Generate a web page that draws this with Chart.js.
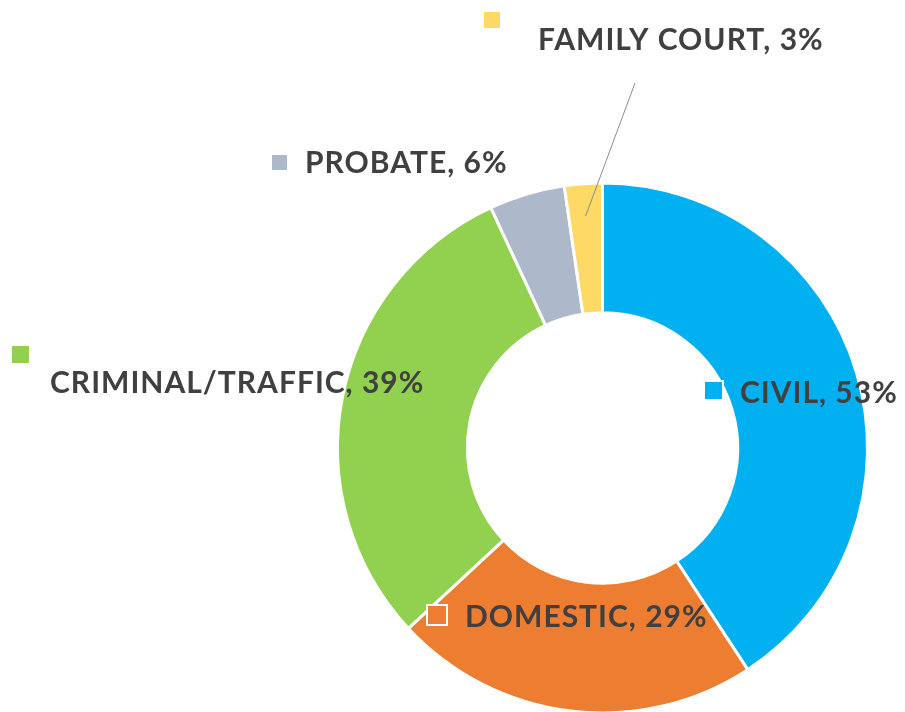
<!DOCTYPE html>
<html>
<head>
<meta charset="utf-8">
<script src="https://cdn.jsdelivr.net/npm/chart.js@4.4.1/dist/chart.umd.min.js"></script>
<style>
  html, body { margin: 0; padding: 0; background: #ffffff; overflow: hidden; }
  #wrap { position: relative; width: 905px; height: 712px; }
</style>
</head>
<body>
<div id="wrap"><canvas id="c" width="905" height="712"></canvas></div>
<script>
// ---- data ----
const categories = ['CIVIL', 'DOMESTIC', 'CRIMINAL/TRAFFIC', 'PROBATE', 'FAMILY COURT'];
const values = [53, 29, 39, 6, 3];
const percentLabels = ['53%', '29%', '39%', '6%', '3%'];
const colors = ['#00B0F0', '#ED7D31', '#92D050', '#ADB9CA', '#FFD966'];

// ---- label layout (marker square + text) ----
const labelLayout = [
  { mx: 705, my: 382, ms: 17, tx: 740, ty: 403 },   // CIVIL
  { mx: 428, my: 606, ms: 18, tx: 465, ty: 627 },   // DOMESTIC
  { mx: 12,  my: 346, ms: 17, tx: 50,  ty: 393 },   // CRIMINAL/TRAFFIC
  { mx: 272, my: 155, ms: 15, tx: 305, ty: 173 },   // PROBATE
  { mx: 484, my: 12,  ms: 16, tx: 538, ty: 50, leader: { x: 635, y: 83, r: 0.75 } } // FAMILY COURT
];

const labelPlugin = {
  id: 'sliceLabels',
  afterDatasetsDraw(chart) {
    const ctx = chart.ctx;
    const meta = chart.getDatasetMeta(0);
    ctx.save();
    labelLayout.forEach((L, i) => {
      if (L.leader) {
        const arc = meta.data[i];
        const p = arc.getProps(['x', 'y', 'startAngle', 'endAngle', 'innerRadius', 'outerRadius'], true);
        const a = (p.startAngle + p.endAngle) / 2;
        const r = p.innerRadius + (p.outerRadius - p.innerRadius) * L.leader.r;
        ctx.beginPath();
        ctx.moveTo(L.leader.x, L.leader.y);
        ctx.lineTo(p.x + Math.cos(a) * r, p.y + Math.sin(a) * r);
        ctx.strokeStyle = '#8c8c8c';
        ctx.lineWidth = 1;
        ctx.stroke();
      }
      ctx.fillStyle = colors[i];
      ctx.fillRect(L.mx, L.my, L.ms, L.ms);
      ctx.strokeStyle = '#ffffff';
      ctx.lineWidth = 2;
      ctx.strokeRect(L.mx - 1, L.my - 1, L.ms + 2, L.ms + 2);
      ctx.fillStyle = '#404040';
      ctx.font = 'bold 30px Lato, "Open Sans", sans-serif';
      if ('letterSpacing' in ctx) ctx.letterSpacing = '1px';
      ctx.textBaseline = 'alphabetic';
      ctx.textAlign = 'left';
      ctx.fillText(categories[i] + ', ' + percentLabels[i], L.tx, L.ty);
    });
    ctx.restore();
  }
};

new Chart(document.getElementById('c'), {
  type: 'doughnut',
  data: {
    labels: categories,
    datasets: [{
      data: values,
      backgroundColor: colors,
      borderColor: '#ffffff',
      borderWidth: 3,
      hoverOffset: 0
    }]
  },
  options: {
    responsive: false,
    animation: false,
    radius: 265,
    cutout: '51%',
    layout: { padding: { left: 338, right: 38, top: 184, bottom: 0 } },
    plugins: {
      legend: { display: false },
      tooltip: { enabled: false },
      title: { display: false }
    }
  },
  plugins: [labelPlugin]
});
</script>
</body>
</html>
